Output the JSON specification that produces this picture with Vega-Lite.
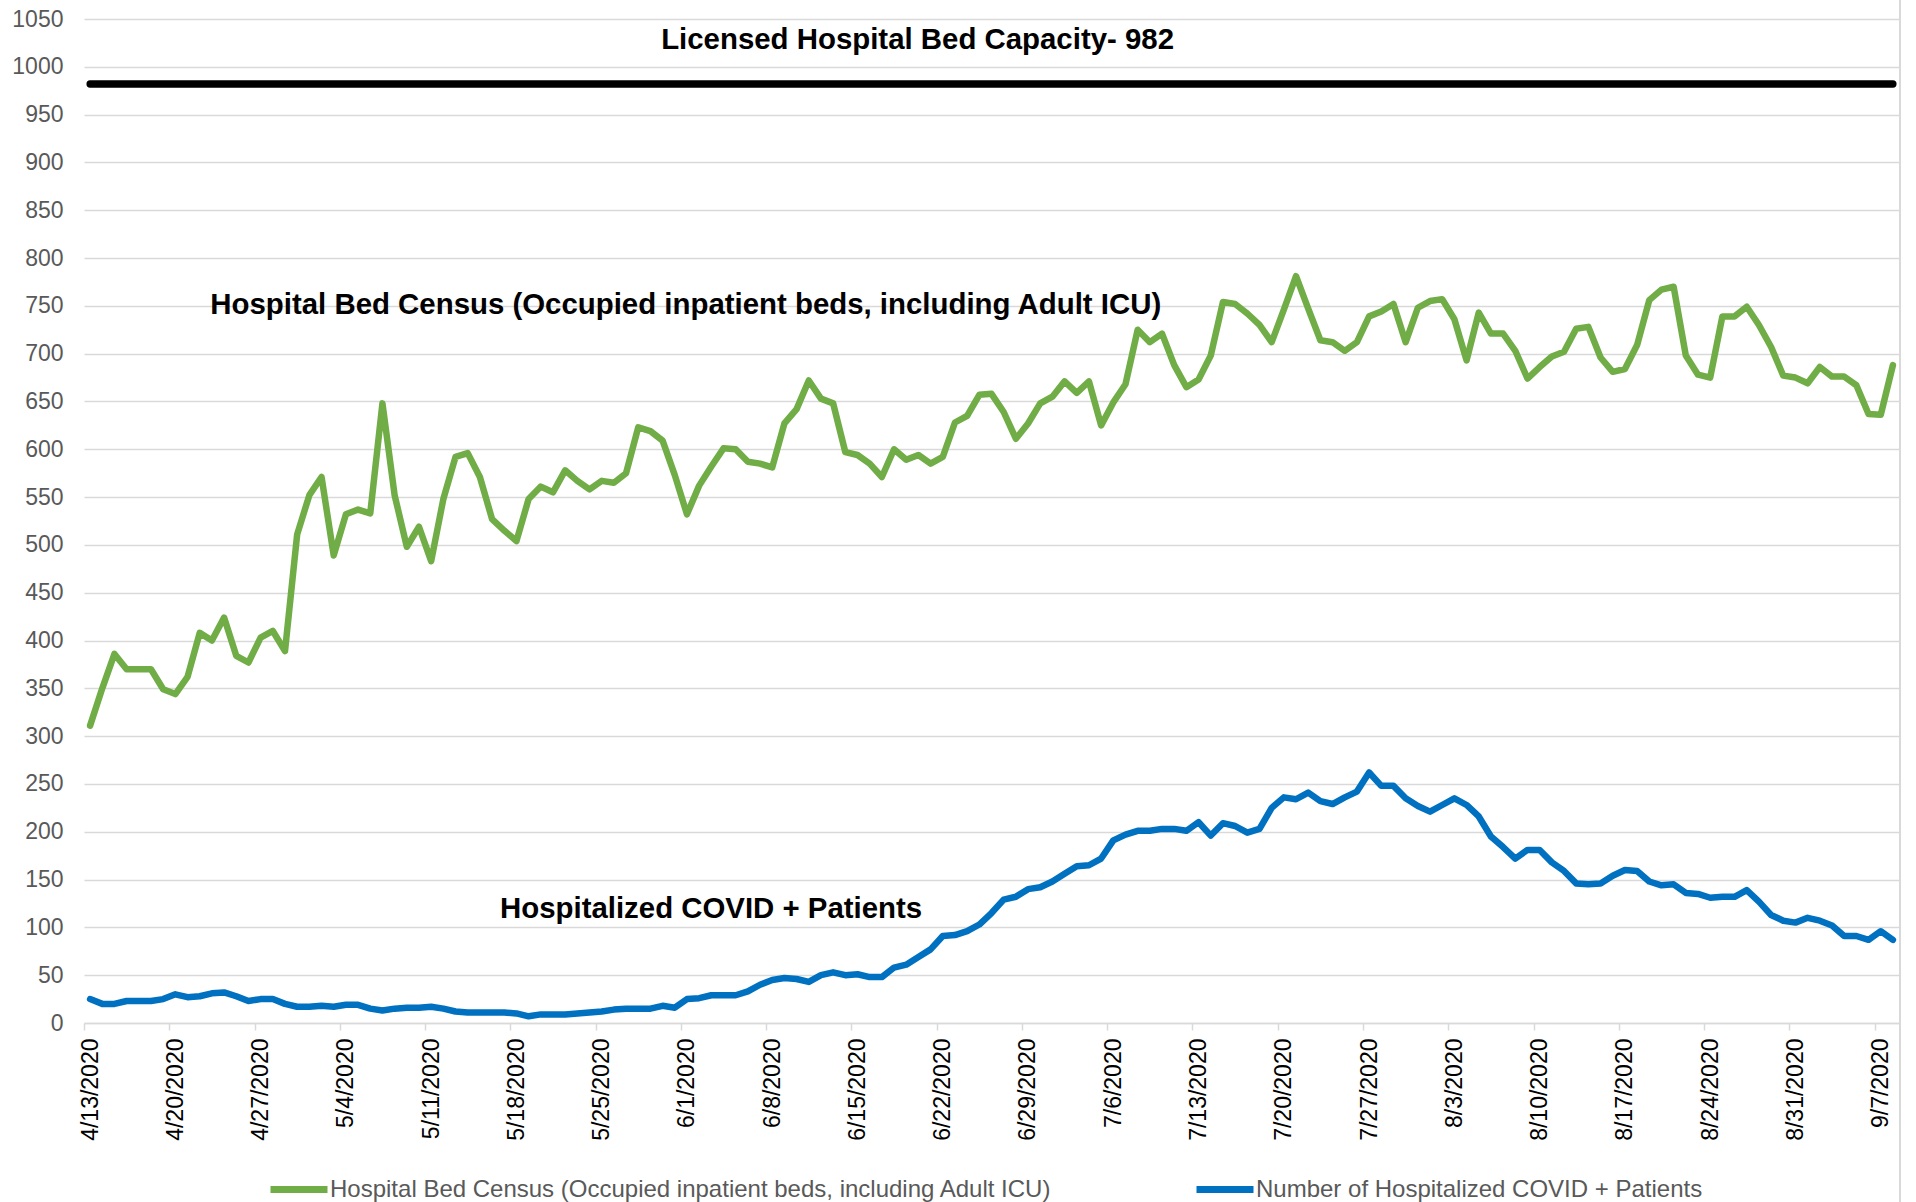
{
"$schema": "https://vega.github.io/schema/vega-lite/v6.json",
"width": 1815, "height": 1004,
"autosize": {"type": "none"},
"padding": {"left": 84, "top": 19, "right": 17, "bottom": 179},
"background": "white",
"config": {"view": {"stroke": null}, "font": "Liberation Sans"},
"datasets": {
"daily": [
{"d":"2020-04-13T12:00:00","census":311,"covid":25},
{"d":"2020-04-14T12:00:00","census":350,"covid":20},
{"d":"2020-04-15T12:00:00","census":386,"covid":20},
{"d":"2020-04-16T12:00:00","census":370,"covid":23},
{"d":"2020-04-17T12:00:00","census":370,"covid":23},
{"d":"2020-04-18T12:00:00","census":370,"covid":23},
{"d":"2020-04-19T12:00:00","census":349,"covid":25},
{"d":"2020-04-20T12:00:00","census":344,"covid":30},
{"d":"2020-04-21T12:00:00","census":362,"covid":27},
{"d":"2020-04-22T12:00:00","census":408,"covid":28},
{"d":"2020-04-23T12:00:00","census":400,"covid":31},
{"d":"2020-04-24T12:00:00","census":424,"covid":32},
{"d":"2020-04-25T12:00:00","census":384,"covid":28},
{"d":"2020-04-26T12:00:00","census":377,"covid":23},
{"d":"2020-04-27T12:00:00","census":403,"covid":25},
{"d":"2020-04-28T12:00:00","census":410,"covid":25},
{"d":"2020-04-29T12:00:00","census":389,"covid":20},
{"d":"2020-04-30T12:00:00","census":511,"covid":17},
{"d":"2020-05-01T12:00:00","census":552,"covid":17},
{"d":"2020-05-02T12:00:00","census":571,"covid":18},
{"d":"2020-05-03T12:00:00","census":489,"covid":17},
{"d":"2020-05-04T12:00:00","census":532,"covid":19},
{"d":"2020-05-05T12:00:00","census":537,"covid":19},
{"d":"2020-05-06T12:00:00","census":533,"covid":15},
{"d":"2020-05-07T12:00:00","census":648,"covid":13},
{"d":"2020-05-08T12:00:00","census":552,"covid":15},
{"d":"2020-05-09T12:00:00","census":498,"covid":16},
{"d":"2020-05-10T12:00:00","census":519,"covid":16},
{"d":"2020-05-11T12:00:00","census":483,"covid":17},
{"d":"2020-05-12T12:00:00","census":548,"covid":15},
{"d":"2020-05-13T12:00:00","census":592,"covid":12},
{"d":"2020-05-14T12:00:00","census":596,"covid":11},
{"d":"2020-05-15T12:00:00","census":571,"covid":11},
{"d":"2020-05-16T12:00:00","census":527,"covid":11},
{"d":"2020-05-17T12:00:00","census":515,"covid":11},
{"d":"2020-05-18T12:00:00","census":504,"covid":10},
{"d":"2020-05-19T12:00:00","census":548,"covid":7},
{"d":"2020-05-20T12:00:00","census":561,"covid":9},
{"d":"2020-05-21T12:00:00","census":555,"covid":9},
{"d":"2020-05-22T12:00:00","census":578,"covid":9},
{"d":"2020-05-23T12:00:00","census":567,"covid":10},
{"d":"2020-05-24T12:00:00","census":558,"covid":11},
{"d":"2020-05-25T12:00:00","census":567,"covid":12},
{"d":"2020-05-26T12:00:00","census":565,"covid":14},
{"d":"2020-05-27T12:00:00","census":575,"covid":15},
{"d":"2020-05-28T12:00:00","census":623,"covid":15},
{"d":"2020-05-29T12:00:00","census":619,"covid":15},
{"d":"2020-05-30T12:00:00","census":609,"covid":18},
{"d":"2020-05-31T12:00:00","census":573,"covid":16},
{"d":"2020-06-01T12:00:00","census":532,"covid":25},
{"d":"2020-06-02T12:00:00","census":562,"covid":26},
{"d":"2020-06-03T12:00:00","census":582,"covid":29},
{"d":"2020-06-04T12:00:00","census":601,"covid":29},
{"d":"2020-06-05T12:00:00","census":600,"covid":29},
{"d":"2020-06-06T12:00:00","census":587,"covid":33},
{"d":"2020-06-07T12:00:00","census":585,"covid":40},
{"d":"2020-06-08T12:00:00","census":581,"covid":45},
{"d":"2020-06-09T12:00:00","census":627,"covid":47},
{"d":"2020-06-10T12:00:00","census":642,"covid":46},
{"d":"2020-06-11T12:00:00","census":672,"covid":43},
{"d":"2020-06-12T12:00:00","census":653,"covid":50},
{"d":"2020-06-13T12:00:00","census":648,"covid":53},
{"d":"2020-06-14T12:00:00","census":597,"covid":50},
{"d":"2020-06-15T12:00:00","census":594,"covid":51},
{"d":"2020-06-16T12:00:00","census":585,"covid":48},
{"d":"2020-06-17T12:00:00","census":571,"covid":48},
{"d":"2020-06-18T12:00:00","census":600,"covid":58},
{"d":"2020-06-19T12:00:00","census":589,"covid":61},
{"d":"2020-06-20T12:00:00","census":594,"covid":69},
{"d":"2020-06-21T12:00:00","census":585,"covid":77},
{"d":"2020-06-22T12:00:00","census":592,"covid":91},
{"d":"2020-06-23T12:00:00","census":628,"covid":92},
{"d":"2020-06-24T12:00:00","census":635,"covid":96},
{"d":"2020-06-25T12:00:00","census":657,"covid":103},
{"d":"2020-06-26T12:00:00","census":658,"covid":115},
{"d":"2020-06-27T12:00:00","census":639,"covid":129},
{"d":"2020-06-28T12:00:00","census":611,"covid":132},
{"d":"2020-06-29T12:00:00","census":627,"covid":140},
{"d":"2020-06-30T12:00:00","census":648,"covid":142},
{"d":"2020-07-01T12:00:00","census":655,"covid":148},
{"d":"2020-07-02T12:00:00","census":671,"covid":156},
{"d":"2020-07-03T12:00:00","census":659,"covid":164},
{"d":"2020-07-04T12:00:00","census":671,"covid":165},
{"d":"2020-07-05T12:00:00","census":625,"covid":172},
{"d":"2020-07-06T12:00:00","census":649,"covid":191},
{"d":"2020-07-07T12:00:00","census":668,"covid":197},
{"d":"2020-07-08T12:00:00","census":725,"covid":201},
{"d":"2020-07-09T12:00:00","census":712,"covid":201},
{"d":"2020-07-10T12:00:00","census":721,"covid":203},
{"d":"2020-07-11T12:00:00","census":688,"covid":203},
{"d":"2020-07-12T12:00:00","census":665,"covid":201},
{"d":"2020-07-13T12:00:00","census":673,"covid":210},
{"d":"2020-07-14T12:00:00","census":698,"covid":196},
{"d":"2020-07-15T12:00:00","census":754,"covid":209},
{"d":"2020-07-16T12:00:00","census":752,"covid":206},
{"d":"2020-07-17T12:00:00","census":742,"covid":199},
{"d":"2020-07-18T12:00:00","census":730,"covid":203},
{"d":"2020-07-19T12:00:00","census":712,"covid":225},
{"d":"2020-07-20T12:00:00","census":746,"covid":236},
{"d":"2020-07-21T12:00:00","census":781,"covid":234},
{"d":"2020-07-22T12:00:00","census":747,"covid":241},
{"d":"2020-07-23T12:00:00","census":714,"covid":232},
{"d":"2020-07-24T12:00:00","census":712,"covid":229},
{"d":"2020-07-25T12:00:00","census":703,"covid":236},
{"d":"2020-07-26T12:00:00","census":712,"covid":242},
{"d":"2020-07-27T12:00:00","census":739,"covid":262},
{"d":"2020-07-28T12:00:00","census":744,"covid":248},
{"d":"2020-07-29T12:00:00","census":752,"covid":248},
{"d":"2020-07-30T12:00:00","census":712,"covid":235},
{"d":"2020-07-31T12:00:00","census":748,"covid":227},
{"d":"2020-08-01T12:00:00","census":755,"covid":221},
{"d":"2020-08-02T12:00:00","census":757,"covid":228},
{"d":"2020-08-03T12:00:00","census":736,"covid":235},
{"d":"2020-08-04T12:00:00","census":693,"covid":228},
{"d":"2020-08-05T12:00:00","census":743,"covid":216},
{"d":"2020-08-06T12:00:00","census":721,"covid":195},
{"d":"2020-08-07T12:00:00","census":721,"covid":184},
{"d":"2020-08-08T12:00:00","census":703,"covid":172},
{"d":"2020-08-09T12:00:00","census":674,"covid":181},
{"d":"2020-08-10T12:00:00","census":686,"covid":181},
{"d":"2020-08-11T12:00:00","census":697,"covid":168},
{"d":"2020-08-12T12:00:00","census":702,"covid":159},
{"d":"2020-08-13T12:00:00","census":726,"covid":146},
{"d":"2020-08-14T12:00:00","census":728,"covid":145},
{"d":"2020-08-15T12:00:00","census":696,"covid":146},
{"d":"2020-08-16T12:00:00","census":681,"covid":154},
{"d":"2020-08-17T12:00:00","census":684,"covid":160},
{"d":"2020-08-18T12:00:00","census":709,"covid":159},
{"d":"2020-08-19T12:00:00","census":756,"covid":148},
{"d":"2020-08-20T12:00:00","census":767,"covid":144},
{"d":"2020-08-21T12:00:00","census":770,"covid":145},
{"d":"2020-08-22T12:00:00","census":698,"covid":136},
{"d":"2020-08-23T12:00:00","census":678,"covid":135},
{"d":"2020-08-24T12:00:00","census":675,"covid":131},
{"d":"2020-08-25T12:00:00","census":739,"covid":132},
{"d":"2020-08-26T12:00:00","census":739,"covid":132},
{"d":"2020-08-27T12:00:00","census":749,"covid":139},
{"d":"2020-08-28T12:00:00","census":730,"covid":127},
{"d":"2020-08-29T12:00:00","census":707,"covid":113},
{"d":"2020-08-30T12:00:00","census":677,"covid":107},
{"d":"2020-08-31T12:00:00","census":675,"covid":105},
{"d":"2020-09-01T12:00:00","census":669,"covid":110},
{"d":"2020-09-02T12:00:00","census":686,"covid":107},
{"d":"2020-09-03T12:00:00","census":676,"covid":102},
{"d":"2020-09-04T12:00:00","census":676,"covid":91},
{"d":"2020-09-05T12:00:00","census":667,"covid":91},
{"d":"2020-09-06T12:00:00","census":637,"covid":87},
{"d":"2020-09-07T12:00:00","census":636,"covid":96},
{"d":"2020-09-08T12:00:00","census":688,"covid":87}
],
"cap": [{"start":"2020-04-13T12:00:00","end":"2020-09-08T12:00:00","value":982}],
"border": [{"d":"2020-09-09T02:00:00","top":1075,"bottom":-195}],
"notes": [
{"d":"2020-06-20T10:20:00","v":1019,"t":"Licensed Hospital Bed Capacity- 982"},
{"d":"2020-06-01T09:36:00","v":742,"t":"Hospital Bed Census (Occupied inpatient beds, including Adult ICU)"},
{"d":"2020-06-03T11:30:00","v":110,"t":"Hospitalized COVID + Patients"}
]
},
"layer": [
{
"data": {"name": "daily"},
"transform": [{"fold": ["census", "covid"], "as": ["series", "value"]}],
"mark": {"type": "line", "strokeWidth": 6.5, "strokeJoin": "round", "strokeCap": "round"},
"encoding": {
"x": {"field": "d", "type": "temporal",
"scale": {"domain": [{"year":2020,"month":4,"date":13},{"year":2020,"month":9,"date":9}]},
"axis": {"title": null,
"values": [{"year":2020,"month":4,"date":13},{"year":2020,"month":4,"date":20},{"year":2020,"month":4,"date":27},{"year":2020,"month":5,"date":4},{"year":2020,"month":5,"date":11},{"year":2020,"month":5,"date":18},{"year":2020,"month":5,"date":25},{"year":2020,"month":6,"date":1},{"year":2020,"month":6,"date":8},{"year":2020,"month":6,"date":15},{"year":2020,"month":6,"date":22},{"year":2020,"month":6,"date":29},{"year":2020,"month":7,"date":6},{"year":2020,"month":7,"date":13},{"year":2020,"month":7,"date":20},{"year":2020,"month":7,"date":27},{"year":2020,"month":8,"date":3},{"year":2020,"month":8,"date":10},{"year":2020,"month":8,"date":17},{"year":2020,"month":8,"date":24},{"year":2020,"month":8,"date":31},{"year":2020,"month":9,"date":7}],
"format": "%-m/%-d/%Y", "labelAngle": 270, "labelAlign": "right", "labelBaseline": "middle",
"labelOffset": 6, "labelPadding": 8, "labelFontSize": 23, "labelColor": "#000000", "labelFont": "Liberation Sans",
"labelFlush": false, "labelOverlap": false, "labelBound": false,
"tickColor": "#d9d9d9", "tickSize": 7, "tickWidth": 1.5,
"domainColor": "#d9d9d9", "domainWidth": 1.5, "grid": false}},
"y": {"field": "value", "type": "quantitative",
"scale": {"domain": [0, 1050], "nice": false, "zero": false},
"axis": {"title": null, "format": "d", "values": [0,50,100,150,200,250,300,350,400,450,500,550,600,650,700,750,800,850,900,950,1000,1050],
"grid": true, "gridColor": "#d9d9d9", "gridWidth": 1.5, "domain": false, "ticks": false,
"labelFontSize": 23, "labelColor": "#595959", "labelPadding": 21, "labelFont": "Liberation Sans"}},
"color": {"field": "series", "type": "nominal",
"scale": {"domain": ["census", "covid"], "range": ["#70AD47", "#0070C0"]},
"legend": {"title": null, "orient": "none", "legendX": 183, "legendY": 1138.5, "direction": "horizontal",
"symbolType": "stroke", "symbolSize": 3249, "symbolStrokeWidth": 7,
"labelFontSize": 24, "labelColor": "#595959", "labelFont": "Liberation Sans", "labelLimit": 0,
"labelOffset": -1, "columnPadding": 130, "padding": 0,
"labelExpr": "datum.value == 'census' ? 'Hospital Bed Census (Occupied inpatient beds, including Adult ICU)' : 'Number of Hospitalized COVID + Patients'"}}
}
},
{
"data": {"name": "border"},
"mark": {"type": "rule", "color": "#d9d9d9", "strokeWidth": 2},
"encoding": {
"x": {"field": "d", "type": "temporal"},
"y": {"field": "top", "type": "quantitative"},
"y2": {"field": "bottom"}
}
},
{
"data": {"name": "cap"},
"mark": {"type": "rule", "color": "#000000", "strokeWidth": 7.3, "strokeCap": "round"},
"encoding": {
"x": {"field": "start", "type": "temporal"},
"x2": {"field": "end"},
"y": {"field": "value", "type": "quantitative"}
}
},
{
"data": {"name": "notes"},
"mark": {"type": "text", "font": "Liberation Sans", "fontWeight": "bold", "fontSize": 29.4, "color": "#000000", "align": "center", "baseline": "alphabetic"},
"encoding": {
"x": {"field": "d", "type": "temporal"},
"y": {"field": "v", "type": "quantitative"},
"text": {"field": "t"}
}
}
]
}
